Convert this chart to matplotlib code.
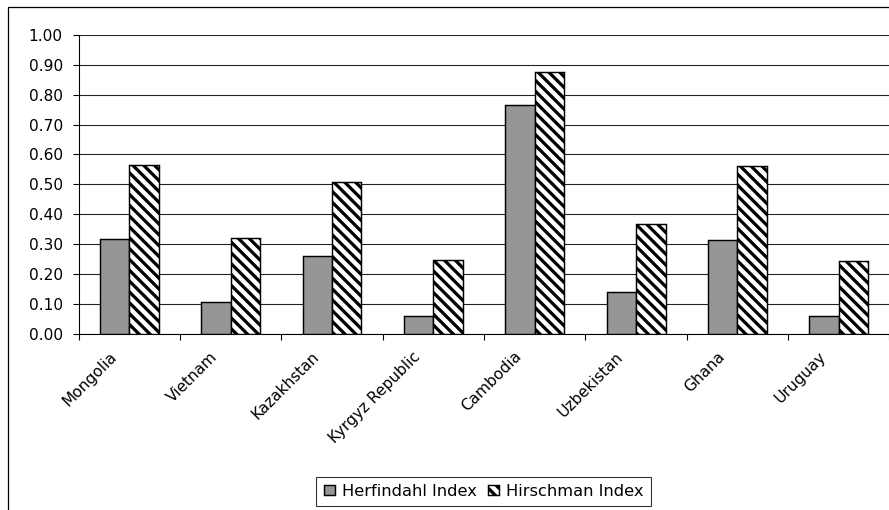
import matplotlib
matplotlib.use("Agg")
import matplotlib.pyplot as plt
import matplotlib.transforms as mtransforms
from matplotlib.patches import Rectangle
import numpy as np

countries = ["Mongolia", "Vietnam", "Kazakhstan", "Kyrgyz Republic",
             "Cambodia", "Uzbekistan", "Ghana", "Uruguay"]
herfindahl = [0.316, 0.105, 0.26, 0.06, 0.765, 0.138, 0.312, 0.06]
hirschman = [0.565, 0.32, 0.509, 0.247, 0.877, 0.367, 0.56, 0.242]
y_ticks = [0.0, 0.1, 0.2, 0.3, 0.4, 0.5, 0.6, 0.7, 0.8, 0.9, 1.0]

DPI = 130
W, H = 889, 510
FS = 8.5

plt.rcParams["font.family"] = ["DejaVu Sans"]
plt.rcParams["hatch.linewidth"] = 1.8

fig = plt.figure(figsize=(W / DPI, H / DPI), dpi=DPI, facecolor="white")
ax = fig.add_axes([78.7 / W, 1 - 333.5 / H, (889.5 - 78.7) / W, (333.5 - 35) / H])

x = np.arange(len(countries))
bw = 0.29
ax.bar(x - bw / 2, herfindahl, bw, color="#969696", edgecolor="black",
       linewidth=0.8, label="Herfindahl Index", zorder=3)
ax.bar(x + bw / 2, hirschman, bw, color="white", edgecolor="black",
       linewidth=0.8, hatch="\\\\\\\\", label="Hirschman Index", zorder=3)

ax.set_xlim(-0.5, len(countries) - 0.5)
ax.set_ylim(0, 1.0)
ax.set_yticks(y_ticks)
ax.set_yticklabels([f"{v:.2f}" for v in y_ticks], fontsize=FS)
ax.yaxis.grid(True, color="#222222", linewidth=0.6, zorder=0)
ax.set_axisbelow(True)

ax.set_xticks(x)
ax.set_xticklabels(countries, fontsize=FS, rotation=45, ha="right", va="top")
ax.set_xticks(np.arange(-0.5, len(countries)), minor=True)
ax.tick_params(axis="x", which="major", length=0, pad=8.5)
ax.tick_params(axis="x", which="minor", length=3.3, width=0.6, direction="out")
ax.tick_params(axis="y", length=3.3, width=0.6, pad=5.5)

shift = mtransforms.ScaledTranslation(-10 / DPI, 0, fig.dpi_scale_trans)
for lbl in ax.get_xticklabels():
    lbl.set_transform(lbl.get_transform() + shift)

for side in ("top", "right"):
    ax.spines[side].set_visible(False)
for side in ("left", "bottom"):
    ax.spines[side].set_linewidth(0.6)
    ax.spines[side].set_color("black")

# chart frame
fig.patches.append(Rectangle((8 / W, -0.1), 1.2, 1 - 6.7 / H + 0.1,
                             transform=fig.transFigure, fill=False,
                             edgecolor="black", linewidth=0.7))

leg = fig.legend(loc="center", bbox_to_anchor=(483.5 / W, 1 - 491.5 / H),
                 ncol=2, fontsize=9, frameon=True, fancybox=False,
                 edgecolor="black", handlelength=0.7, handleheight=0.55,
                 handletextpad=0.4, columnspacing=0.7, borderpad=0.45)
leg.get_frame().set_linewidth(0.6)

fig.savefig("out.png", dpi=DPI, facecolor="white")
